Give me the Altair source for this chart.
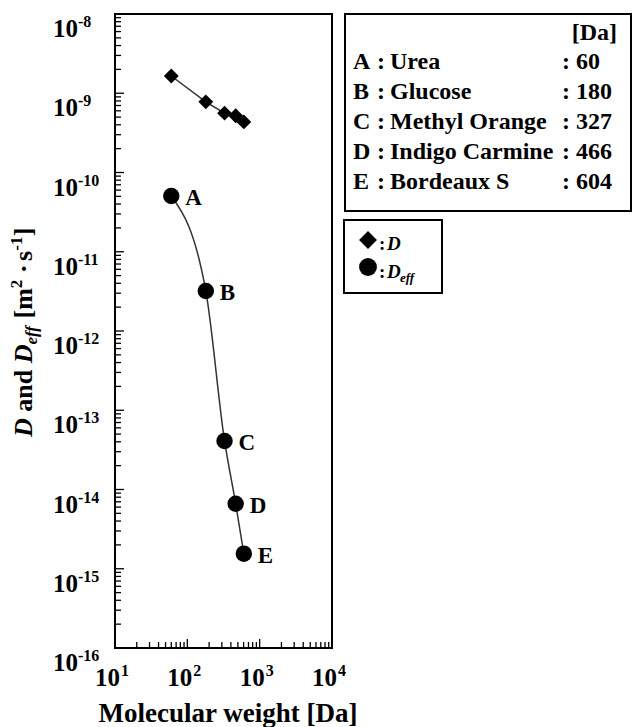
import altair as alt
import pandas as pd

# ---- data ----
letters = ["A", "B", "C", "D", "E"]
names = ["Urea", "Glucose", "Methyl Orange", "Indigo Carmine", "Bordeaux S"]
mw = [60, 180, 327, 466, 604]
d_free = [1.65e-9, 7.8e-10, 5.6e-10, 5.2e-10, 4.35e-10]
d_eff = [5.05e-11, 3.2e-12, 4.1e-14, 6.6e-15, 1.55e-15]

y_decades = [-16, -15, -14, -13, -12, -11, -10, -9, -8]
x_decades = [1, 2, 3, 4]
minor_mult = [2, 3, 4, 5, 6, 7, 8, 9]

FONT = "Liberation Serif"
W, H = 217, 634

df = pd.DataFrame({"letter": letters, "name": names, "mw": mw, "D": d_free, "Deff": d_eff})

xscale = alt.Scale(type="log", domain=[10, 10000], nice=False)
yscale = alt.Scale(type="log", domain=[1e-16, 1e-8], nice=False)


def X(field):
    return alt.X(field, type="quantitative", scale=xscale, axis=None)


def Y(field):
    return alt.Y(field, type="quantitative", scale=yscale, axis=None)


deff_line = alt.Chart(df).mark_line(interpolate="monotone", color="#333333", strokeWidth=1.5).encode(
    x=X("mw"), y=Y("Deff"))
deff_pts = alt.Chart(df).mark_point(shape="circle", filled=True, size=270, color="black", opacity=1).encode(
    x=X("mw"), y=Y("Deff"))
deff_lab = alt.Chart(df).mark_text(align="left", baseline="middle", dx=14, dy=2, font=FONT,
                                   fontWeight="bold", fontSize=23, color="black").encode(
    x=X("mw"), y=Y("Deff"), text="letter:N")
d_line = alt.Chart(df).mark_line(color="#333333", strokeWidth=1.5).encode(x=X("mw"), y=Y("D"))
d_pts = alt.Chart(df).mark_point(shape="diamond", filled=True, size=220, color="black", opacity=1).encode(
    x=X("mw"), y=Y("D"))

# ---- inward ticks and tick labels, drawn through the scales ----
y_major = pd.DataFrame({"yv": [10.0 ** d for d in y_decades]})
y_minor = pd.DataFrame({"yv": [m * 10.0 ** d for d in y_decades[:-1] for m in minor_mult]})
x_major = pd.DataFrame({"xv": [10.0 ** d for d in x_decades]})
x_minor = pd.DataFrame({"xv": [m * 10.0 ** d for d in x_decades[:-1] for m in minor_mult]})


def ytick(data, length):
    return alt.Chart(data).mark_rule(color="black", strokeWidth=1.3, opacity=1).encode(
        y=Y("yv"), x=alt.value(0), x2=alt.value(length))


def xtick(data, length):
    return alt.Chart(data).mark_rule(color="black", strokeWidth=1.3, opacity=1).encode(
        x=X("xv"), y=alt.value(H), y2=alt.value(H - length))


ticks = [ytick(y_major, 9), ytick(y_minor, 6), xtick(x_major, 9), xtick(x_minor, 6)]

ylab = pd.DataFrame({"yv": [10.0 ** d for d in y_decades], "exp": [str(d) for d in y_decades]})
xlab = pd.DataFrame({"xv": [10.0 ** d for d in x_decades], "exp": [str(d) for d in x_decades]})

TXT = dict(font=FONT, fontWeight="bold", color="black", baseline="alphabetic")
ylab_base = alt.Chart(ylab).mark_text(align="left", fontSize=25, dy=23, **TXT).encode(
    y=Y("yv"), x=alt.value(-62), text=alt.value("10"))
ylab_exp = alt.Chart(ylab).mark_text(align="left", fontSize=16, dy=13, **TXT).encode(
    y=Y("yv"), x=alt.value(-37), text="exp:N")
xlab_base = alt.Chart(xlab).mark_text(align="right", fontSize=25, dx=5, **TXT).encode(
    x=X("xv"), y=alt.value(H + 38), text=alt.value("10"))
xlab_exp = alt.Chart(xlab).mark_text(align="left", fontSize=16, dx=6, **TXT).encode(
    x=X("xv"), y=alt.value(H + 28), text="exp:N")

one = pd.DataFrame({"a": [0]})


def txt(text, x, y, size=23, style="normal", align="left", angle=0, line_height=None):
    kw = dict(font=FONT, fontWeight="bold", fontSize=size, fontStyle=style, align=align,
              baseline="alphabetic", color="black", angle=angle)
    if line_height is not None:
        kw.update(lineBreak="\n", lineHeight=line_height)
    return alt.Chart(one).mark_text(**kw).encode(x=alt.value(x), y=alt.value(y), text=alt.value(text))


# x axis title
x_title = txt("Molecular weight [Da]", 113, 708, size=27, align="center")

# y axis title: rotated pieces laid out bottom-to-top
# (text or None for a gap, font size, italic, baseline shift, advance in em)
F, FS = 26, 17
yt_x = -83
pieces = [
    ("D", F, True, 0, 0.722), (None, F, False, 0, 0.25), ("and", F, False, 0, 1.612),
    (None, F, False, 0, 0.25), ("D", F, True, 0, 0.722), ("eff", FS, True, 5, 1.15),
    (None, F, False, 0, 0.25), ("[m", F, False, 0, 1.166), ("2", FS, False, -10, 0.55),
    (None, F, False, 0, 0.22), ("·", F, False, 0, 0.25), (None, F, False, 0, 0.22),
    ("s", F, False, 0, 0.389), ("-1", FS, False, -10, 0.85), ("]", F, False, 0, 0.333),
]
y_title = []
pos = 423.0
for text, size, ital, shift, em in pieces:
    if text:
        y_title.append(txt(text, yt_x + shift, pos, size=size, style="italic" if ital else "normal",
                           angle=270))
    pos -= em * size

# ---- compound table box ----
box1 = alt.Chart(one).mark_rect(fill="white", stroke="black", strokeWidth=2).encode(
    x=alt.value(230), x2=alt.value(516), y=alt.value(0), y2=alt.value(197))
table = [
    txt("[Da]", 502, 26, align="right", size=24),
    txt("\n".join(letters), 238, 55, line_height=30, size=24),
    txt("\n".join([":"] * len(letters)), 262, 55, line_height=30, size=24),
    txt("\n".join(names), 275, 55, line_height=30, size=24),
    txt("\n".join(f": {v}" for v in mw), 447, 55, line_height=30, size=24),
]

# ---- symbol legend box ----
box2 = alt.Chart(one).mark_rect(fill="white", stroke="black", strokeWidth=2).encode(
    x=alt.value(229), x2=alt.value(327), y=alt.value(206), y2=alt.value(279))
leg_d = alt.Chart(one).mark_point(shape="diamond", filled=True, size=320, color="black", opacity=1).encode(
    x=alt.value(253), y=alt.value(226))
leg_c = alt.Chart(one).mark_point(shape="circle", filled=True, size=320, color="black", opacity=1).encode(
    x=alt.value(253), y=alt.value(253))
legend = [
    txt(":", 264, 236, size=19),
    txt("D", 272, 236, size=19, style="italic"),
    txt(":", 264, 264, size=19),
    txt("D", 272, 264, size=19, style="italic"),
    txt("eff", 285, 268, size=13, style="italic"),
]

chart = alt.layer(
    *ticks, ylab_base, ylab_exp, xlab_base, xlab_exp,
    deff_line, d_line, deff_pts, d_pts, deff_lab,
    x_title, *y_title, box1, *table, box2, leg_d, leg_c, *legend,
).properties(
    width=W, height=H,
    padding={"left": 115, "top": 14, "right": 300, "bottom": 79},
    autosize=alt.AutoSizeParams(type="none"),
    background="white",
).configure_view(stroke="black", strokeWidth=2)

chart.save("out.html", embed_options={"renderer": "svg", "actions": False})
